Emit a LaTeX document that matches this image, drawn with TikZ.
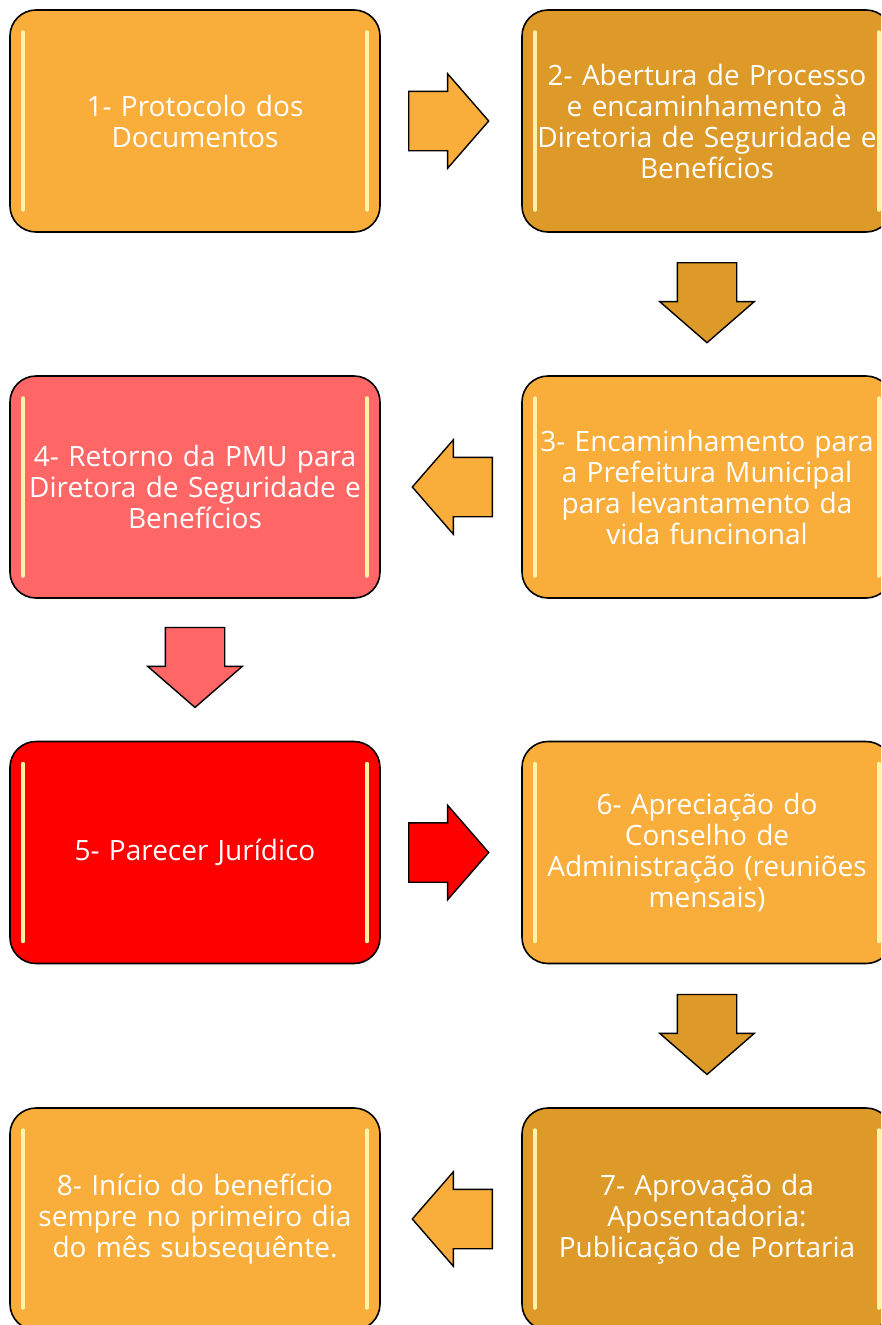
\documentclass[tikz,border=0pt]{standalone}
\usepackage{fontspec}
\setmainfont{Open Sans}
\usetikzlibrary{shapes.arrows,calc}

\definecolor{laranja}{HTML}{F9AD3B}
\definecolor{laranjaesc}{HTML}{DE9A28}
\definecolor{salmao}{HTML}{FF6666}
\definecolor{vermelho}{HTML}{FF0000}
\definecolor{brilho}{HTML}{FFF4A6}

\tikzset{
  etapa/.style={draw=black, line width=1.6pt, rounded corners=26pt, fill=#1,
    minimum width=370pt, minimum height=222pt, text width=365pt, inner sep=0pt,
    align=center, text=white, font=\fontsize{28}{31}\selectfont,
    path picture={
      \draw[brilho, line width=3.5pt, line cap=round]
        ([xshift=13pt,yshift=-22pt]path picture bounding box.north west) --
        ([xshift=13pt,yshift=22pt]path picture bounding box.south west);
      \draw[brilho, line width=3.5pt, line cap=round]
        ([xshift=-13pt,yshift=-22pt]path picture bounding box.north east) --
        ([xshift=-13pt,yshift=22pt]path picture bounding box.south east);
    }},
  seta/.style={single arrow, draw=black, line width=1.4pt, fill=#1,
    minimum height=80pt, inner sep=0pt, text width=0pt,
    text height=29pt, text depth=29pt, anchor=tail,
    single arrow head extend=17.5pt, single arrow tip angle=98},
}

\begin{document}
\begin{tikzpicture}[x=1pt,y=-1pt]
  \useasboundingbox (0,0) rectangle (881,1325);
  \clip (0,0) rectangle (881,1325);

  % etapas
  \node[etapa=laranja] (p1) at (195,121) {1- Protocolo dos\\ Documentos};
  \node[etapa=laranjaesc] (p2) at (707,121) {2- Abertura de Processo\\ e encaminhamento à\\ Diretoria de Seguridade e\\ Benefícios};
  \node[etapa=laranja] (p3) at (707,487) {3- Encaminhamento para\\ a Prefeitura Municipal\\ para levantamento da\\ vida funcinonal};
  \node[etapa=salmao] (p4) at (195,487) {4- Retorno da PMU para\\ Diretora de Seguridade e\\ Benefícios};
  \node[etapa=vermelho] (p5) at (195,852.5) {5- Parecer Jurídico};
  \node[etapa=laranja] (p6) at (707,852.5) {6- Apreciação do\\ Conselho de\\ Administração (reuniões\\ mensais)};
  \node[etapa=laranjaesc] (p7) at (707,1219) {7- Aprovação da\\ Aposentadoria:\\ Publicação de Portaria};
  \node[etapa=laranja] (p8) at (195,1219) {8- Início do benefício\\ sempre no primeiro dia\\ do mês subsequênte.};

  % setas (ancoradas pela cauda)
  \node[seta=laranja] (s12) at ($(p1.east)!0.5!(p2.west)+(-43,0)$) {};
  \node[seta=laranjaesc, rotate=-90] (s23) at ($(p2.south)!0.5!(p3.north)+(0,-42)$) {};
  \node[seta=laranja, rotate=180] (s34) at ($(p3.west)!0.5!(p4.east)+(42,0)$) {};
  \node[seta=salmao, rotate=-90] (s45) at ($(p4.south)!0.5!(p5.north)+(0,-43)$) {};
  \node[seta=vermelho] (s56) at ($(p5.east)!0.5!(p6.west)+(-43,0)$) {};
  \node[seta=laranjaesc, rotate=-90] (s67) at ($(p6.south)!0.5!(p7.north)+(0,-42)$) {};
  \node[seta=laranja, rotate=180] (s78) at ($(p7.west)!0.5!(p8.east)+(42,0)$) {};
\end{tikzpicture}
\end{document}
